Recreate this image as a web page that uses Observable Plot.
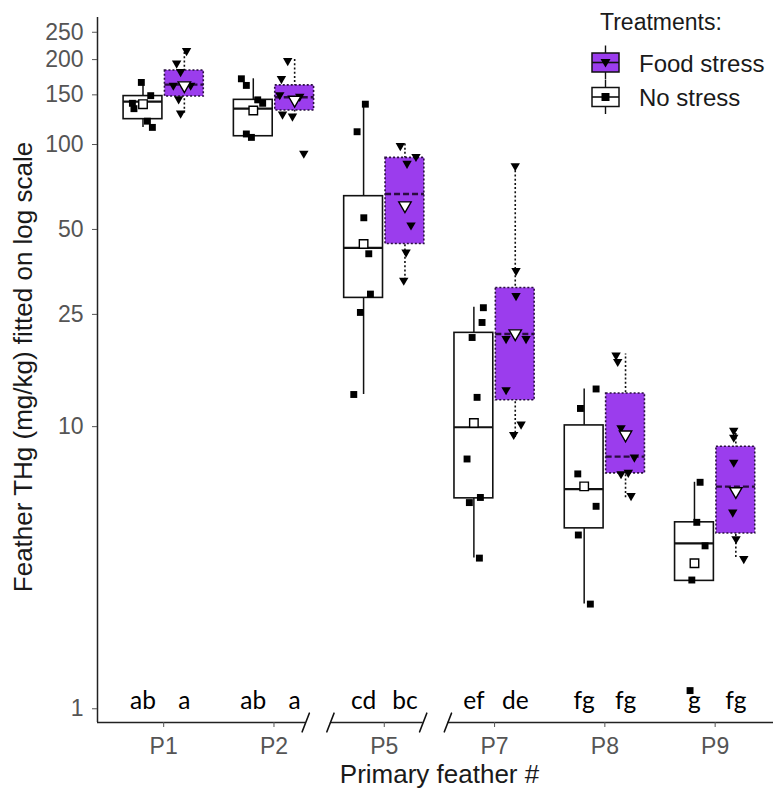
<!DOCTYPE html>
<html>
<head>
<meta charset="utf-8">
<script src="https://cdn.jsdelivr.net/npm/d3@7"></script>
<script src="https://cdn.jsdelivr.net/npm/@observablehq/plot@0.6"></script>
<style>
  body { margin: 0; background: #fff; }
  #chart { width: 773px; height: 789px; }
</style>
</head>
<body>
<div id="chart"></div>
<script>
// Primary feathers on the x axis and the two treatment groups
const feathers = ["P1", "P2", "P5", "P7", "P8", "P9"];
const treatments = ["No stress", "Food stress"];

// Box statistics, feather THg (mg/kg) — No stress
const nsLow    = [115, 106, 13.0, 3.42, 2.35, 2.84];
const nsQ1     = [123, 107, 28.6, 5.57, 4.36, 2.84];
const nsMedian = [142, 134, 43.0, 9.95, 6.01, 3.86];
const nsQ3     = [148.5, 144, 65.6, 21.5, 10.1, 4.58];
const nsHigh   = [166, 171, 139, 26.5, 13.6, 6.35];
const nsMean   = [139, 132, 44.4, 10.3, 6.14, 3.28];

// Box statistics — Food stress
const fsLow    = [129, 126, 33.0, 9.16, 5.6, 3.44];
const fsQ1     = [148, 132, 44.4, 12.4, 6.83, 4.18];
const fsMedian = [163, 147, 66.8, 21.3, 7.83, 6.13];
const fsQ3     = [183, 162, 89.7, 31.0, 13.1, 8.49];
const fsHigh   = [215, 201, 100.5, 84.2, 18.1, 9.82];
const fsMean   = [162, 144, 60.8, 21.4, 9.37, 5.9];

// Individual birds: [feather, value, jitter]
const nsPoints = [
  ["P1", 166, -0.015], ["P1", 149, 0.07], ["P1", 140, -0.096], ["P1", 134, -0.082], ["P1", 121, 0.04], ["P1", 115, 0.085],
  ["P2", 171, -0.108], ["P2", 162, -0.063], ["P2", 144, 0.04], ["P2", 140, 0.085], ["P2", 109, -0.063], ["P2", 106, -0.017],
  ["P5", 139, 0.016], ["P5", 111, -0.059], ["P5", 55, 0.002], ["P5", 41, 0.047], ["P5", 29.5, 0.062], ["P5", 25.4, -0.029], ["P5", 13, -0.089],
  ["P7", 26.4, 0.086], ["P7", 23.4, 0.074], ["P7", 20.7, -0.016], ["P7", 12.7, 0.029], ["P7", 7.68, -0.062], ["P7", 5.38, -0.041], ["P7", 5.61, 0.059], ["P7", 3.42, 0.05],
  ["P8", 13.6, 0.108], ["P8", 11.6, -0.034], ["P8", 6.8, -0.058], ["P8", 5.22, 0.108], ["P8", 4.13, -0.053], ["P8", 2.35, 0.056],
  ["P9", 6.35, 0.051], ["P9", 4.58, 0.021], ["P9", 3.78, 0.096], ["P9", 2.86, -0.024], ["P9", 1.16, -0.04]
];
const fsPoints = [
  ["P1", 215, 0.02], ["P1", 194, -0.07], ["P1", 181, -0.034], ["P1", 162, -0.1], ["P1", 162, 0.057], ["P1", 145, -0.052], ["P1", 129, -0.034],
  ["P2", 198, -0.063], ["P2", 171, -0.12], ["P2", 150, -0.135], ["P2", 148, 0.046], ["P2", 128, -0.11], ["P2", 126, -0.02], ["P2", 93, 0.083],
  ["P5", 99, -0.042], ["P5", 90.6, 0.1], ["P5", 85.7, 0.019], ["P5", 51.8, 0.055], ["P5", 41.5, 0.01], ["P5", 33, -0.011],
  ["P7", 84, 0], ["P7", 35.7, 0.007], ["P7", 29.1, 0.007], ["P7", 20.5, -0.083], ["P7", 20.5, 0.098], ["P7", 13.5, -0.083], ["P7", 10.2, 0.053], ["P7", 9.37, -0.014],
  ["P8", 17.9, -0.086], ["P8", 17.0, -0.071], ["P8", 9.9, -0.041], ["P8", 7.79, 0.08], ["P8", 6.8, -0.041], ["P8", 6.88, 0.025], ["P8", 5.69, 0.05],
  ["P9", 9.69, -0.019], ["P9", 9.16, -0.019], ["P9", 7.47, -0.019], ["P9", 4.97, -0.028], ["P9", 4.0, 0.002], ["P9", 3.4, 0.072]
];

// Significance letters above the axis
const nsLetters = ["ab", "ab", "cd", "ef", "fg", "g"];
const fsLetters = ["a", "a", "bc", "de", "fg", "fg"];

// Axis ticks
const yTicks = [1, 10, 25, 50, 100, 150, 200, 250];
const axisBreaks = [1.4, 2.465]; // broken x axis between P2|P5 and P5|P7

const purple = "#9b3ded";
const dodge = 0.1875, halfWidth = 0.176, gap = 0.112;
const xMin = -0.6, xMax = 5.529, yMin = 0.894, yMax = 282;

function boxes(low, q1, med, q3, high, mean, letters, offset) {
  return feathers.map((f, i) => ({
    feather: f, x: i + offset, x1: i + offset - halfWidth, x2: i + offset + halfWidth,
    low: low[i], q1: q1[i], med: med[i], q3: q3[i], high: high[i], mean: mean[i], letter: letters[i]
  }));
}
const nsBoxes = boxes(nsLow, nsQ1, nsMedian, nsQ3, nsHigh, nsMean, nsLetters, -dodge);
const fsBoxes = boxes(fsLow, fsQ1, fsMedian, fsQ3, fsHigh, fsMean, fsLetters, dodge);
const pts = (arr, offset) => arr.map(([f, v, j]) => ({x: feathers.indexOf(f) + offset + j, value: v}));
const nsPts = pts(nsPoints, -dodge);
const fsPts = pts(fsPoints, dodge);

// Downward-pointing triangle symbol
const triangleDown = {
  draw(context, size) {
    const a = Math.sqrt(4 * size / Math.sqrt(3));
    const h = a * Math.sqrt(3) / 2;
    context.moveTo(-a / 2, -h / 3);
    context.lineTo(a / 2, -h / 3);
    context.lineTo(0, 2 * h / 3);
    context.closePath();
  }
};
// Straight stroke used for the axis break marks
const slash = { draw(context, l) { context.moveTo(0, 0); context.lineTo(0, -l); } };

// x-axis segments between the breaks
const axisSegments = [];
{
  let start = xMin;
  for (const b of axisBreaks) { axisSegments.push({x1: start, x2: b - gap}); start = b + gap; }
  axisSegments.push({x1: start, x2: xMax});
}
const breakEdges = axisBreaks.flatMap(b => [b - gap, b + gap]);

const font = "'Liberation Sans', Arial, sans-serif";
const chart = Plot.plot({
  width: 773,
  height: 789,
  marginLeft: 97,
  marginRight: 0,
  marginTop: 17,
  marginBottom: 67,
  style: {fontFamily: font, background: "#fff"},
  x: {domain: [xMin, xMax], axis: null},
  y: {type: "log", domain: [yMin, yMax], axis: null},
  marks: [
    // whiskers
    Plot.ruleX(nsBoxes, {x: "x", y1: "low", y2: "high", stroke: "#111", strokeWidth: 1.5}),
    Plot.ruleX(fsBoxes, {x: "x", y1: "low", y2: "high", stroke: "#111", strokeWidth: 1.6, strokeDasharray: "2,2.2"}),
    // boxes
    Plot.rect(nsBoxes, {x1: "x1", x2: "x2", y1: "q1", y2: "q3", fill: "#fff", stroke: "#111", strokeWidth: 1.6}),
    Plot.rect(fsBoxes, {x1: "x1", x2: "x2", y1: "q1", y2: "q3", fill: purple, stroke: "#2a1040", strokeWidth: 1.6, strokeDasharray: "2,2"}),
    // medians
    Plot.ruleY(nsBoxes, {y: "med", x1: "x1", x2: "x2", stroke: "#111", strokeWidth: 2.2}),
    Plot.ruleY(fsBoxes, {y: "med", x1: "x1", x2: "x2", stroke: "#2a0c40", strokeWidth: 2.4, strokeDasharray: "6,3"}),
    // individual birds
    Plot.dot(nsPts, {x: "x", y: "value", symbol: "square", r: 3.9, fill: "#000"}),
    Plot.dot(fsPts, {x: "x", y: "value", symbol: triangleDown, r: 3.5, fill: "#000"}),
    // group means
    Plot.dot(nsBoxes, {x: "x", y: "mean", symbol: "square", r: 4.8, fill: "#fff", stroke: "#000", strokeWidth: 1.4}),
    Plot.dot(fsBoxes, {x: "x", y: "mean", symbol: triangleDown, r: 4.6, fill: "#fff", stroke: "#000", strokeWidth: 1.4}),
    // significance letters
    Plot.text([...nsBoxes, ...fsBoxes], {x: "x", y: () => 1, text: "letter", fontSize: 24.5, fontFamily: "Lato, 'Open Sans', sans-serif", fill: "#000", lineAnchor: "bottom"}),
    // axis lines
    Plot.ruleX([xMin], {stroke: "#222", strokeWidth: 1.5}),
    Plot.ruleY(axisSegments, {y: () => yMin, x1: "x1", x2: "x2", stroke: "#222", strokeWidth: 1.5}),
    Plot.vector(breakEdges, {x: d => d, y: () => yMin, length: 20, rotate: 21, anchor: "middle", shape: slash, stroke: "#111", strokeWidth: 1.6}),
    // axes
    Plot.axisY(yTicks, {tickFormat: d => String(d), tickSize: 5, tickPadding: 9, fontSize: 23, color: "#555", label: null}),
    Plot.axisX({ticks: d3.range(feathers.length), tickFormat: i => feathers[i], tickSize: 5, tickPadding: 10, fontSize: 23, color: "#555", label: null}),
    // axis titles
    Plot.text(["Feather THg (mg/kg) fitted on log scale"], {frameAnchor: "left", textAnchor: "middle", lineAnchor: "middle", dx: -74, dy: -3, rotate: -90, fontSize: 26, fill: "#1a1a1a"}),
    Plot.text(["Primary feather #"], {frameAnchor: "bottom", dx: 4, dy: 60, lineAnchor: "bottom", fontSize: 26, fill: "#1a1a1a"})
  ]
});

// Legend: treatments with their box glyphs
const svg = d3.select(chart);
const legend = svg.append("g").attr("font-family", font).attr("fill", "#1a1a1a").attr("text-anchor", "start");
legend.append("text").attr("x", 600).attr("y", 30).attr("font-size", 23).text("Treatments:");
const legendItems = [treatments[1], treatments[0]];
legendItems.forEach((name, k) => {
  const cy = 62.5 + k * 34.5;
  const g = legend.append("g");
  const food = name === "Food stress";
  g.append("line").attr("x1", 605.5).attr("x2", 605.5).attr("y1", cy - 17).attr("y2", cy + 17).attr("stroke", "#111").attr("stroke-width", 1.4);
  g.append("rect").attr("x", 592).attr("y", cy - 9.5).attr("width", 27).attr("height", 19)
    .attr("fill", food ? purple : "#fff").attr("stroke", "#111").attr("stroke-width", 1.5);
  g.append("line").attr("x1", 592).attr("x2", 619).attr("y1", cy).attr("y2", cy).attr("stroke", "#111").attr("stroke-width", 1.6);
  if (food) {
    g.append("path").attr("d", `M${605.5 - 5},${cy - 3.5}L${605.5 + 5},${cy - 3.5}L${605.5},${cy + 5}Z`).attr("fill", "#000");
  } else {
    g.append("rect").attr("x", 601.5).attr("y", cy - 4).attr("width", 8).attr("height", 8).attr("fill", "#000");
  }
  g.append("text").attr("x", 639).attr("y", cy + 9).attr("font-size", 24).text(name);
});

document.getElementById("chart").appendChild(chart);
</script>
</body>
</html>
